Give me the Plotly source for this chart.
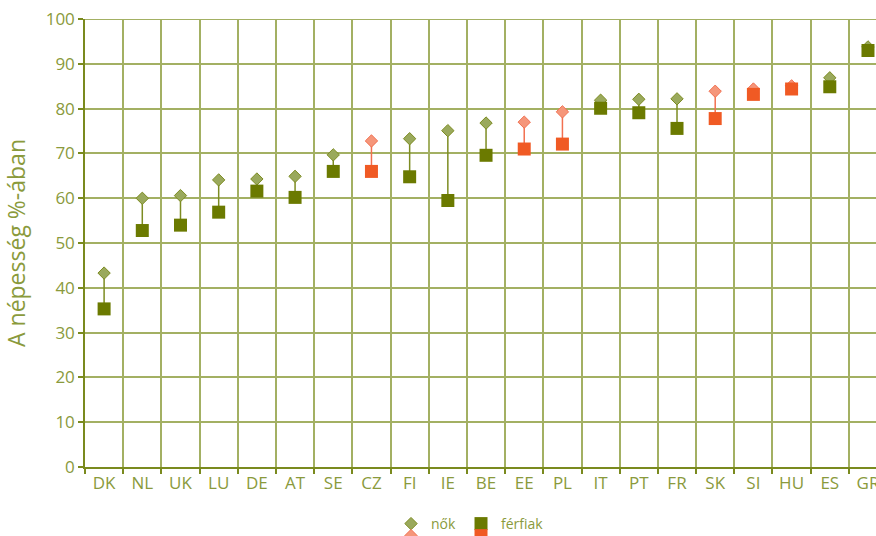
import plotly.graph_objects as go

orszagok = ["DK", "NL", "UK", "LU", "DE", "AT", "SE", "CZ", "FI", "IE", "BE",
            "EE", "PL", "IT", "PT", "FR", "SK", "SI", "HU", "ES", "GR"]
nok = [43.3, 60.0, 60.6, 64.1, 64.3, 64.9, 69.7, 72.8, 73.3, 75.1, 76.8,
       77.0, 79.3, 81.9, 82.1, 82.2, 83.9, 84.4, 85.1, 86.9, 93.8]
ferfiak = [35.3, 52.8, 54.0, 56.9, 61.6, 60.2, 66.0, 66.0, 64.8, 59.5, 69.6,
           71.0, 72.1, 80.1, 79.1, 75.6, 77.8, 83.2, 84.4, 84.9, 93.0]
# 1 = highlighted (orange) countries
kiemelt = [0, 0, 0, 0, 0, 0, 0, 1, 0, 0, 0, 1, 1, 0, 0, 0, 1, 1, 1, 0, 0]
y_ticks = list(range(0, 101, 10))

GREEN_SQ = "#6b7a00"
GREEN_DIA = "#9aa95c"
GREEN_LINE = "#7d8c22"
ORANGE_SQ = "#f05a24"
ORANGE_DIA = "#f5967a"
ORANGE_LINE = "#f27050"
GRID = "#a3b063"
AXIS = "#7a8a1e"
TEXT = "#8a9a3c"

W, H = 876, 536

fig = go.Figure()

def subset(flag):
    return [i for i, k in enumerate(kiemelt) if k == flag]

for flag, lc in [(0, GREEN_LINE), (1, ORANGE_LINE)]:
    xs, ys = [], []
    for i in subset(flag):
        xs += [orszagok[i], orszagok[i], None]
        ys += [nok[i], ferfiak[i], None]
    fig.add_trace(go.Scatter(x=xs, y=ys, mode="lines", line=dict(color=lc, width=1.5),
                             showlegend=False, hoverinfo="skip"))

for flag, fill, outl, leg in [(0, GREEN_DIA, GREEN_LINE, "legend"), (1, ORANGE_DIA, ORANGE_LINE, "legend2")]:
    idx = subset(flag)
    fig.add_trace(go.Scatter(x=[orszagok[i] for i in idx], y=[nok[i] for i in idx],
                             mode="markers", name="nők", legend=leg,
                             marker=dict(symbol="diamond", size=9.5, color=fill,
                                         line=dict(color=outl, width=1))))
for flag, fill, leg in [(0, GREEN_SQ, "legend"), (1, ORANGE_SQ, "legend2")]:
    idx = subset(flag)
    fig.add_trace(go.Scatter(x=[orszagok[i] for i in idx], y=[ferfiak[i] for i in idx],
                             mode="markers", name="férfiak", legend=leg,
                             marker=dict(symbol="square", size=13, color=fill,
                                         line=dict(width=0))))

leg_common = dict(orientation="h", xanchor="left", yanchor="middle",
                  xref="container", yref="container",
                  bgcolor="rgba(0,0,0,0)", itemwidth=30, itemsizing="trace",
                  tracegroupgap=0)

fig.update_layout(
    width=W, height=H,
    margin=dict(l=85, r=0, t=19, b=69, autoexpand=False),
    plot_bgcolor="rgba(0,0,0,0)", paper_bgcolor="white",
    font=dict(family="Open Sans", size=17, color=TEXT),
    xaxis=dict(type="category", categoryorder="array", categoryarray=orszagok,
               range=[-0.5, 20.21], tickson="boundaries", showgrid=True,
               gridcolor=GRID, gridwidth=1.5, ticks="outside", ticklen=5,
               tickcolor=AXIS, tickwidth=1.5, showline=True, linecolor=AXIS,
               linewidth=1.5, tickfont=dict(size=17, color=TEXT), fixedrange=True,
               automargin=False, ticklabeloverflow="allow"),
    yaxis=dict(range=[0, 100.03], tickvals=y_ticks, showgrid=True,
               gridcolor=GRID, gridwidth=1.5,
               ticks="outside", ticklen=5, tickcolor=AXIS, tickwidth=1.5,
               showline=True, linecolor=AXIS, linewidth=1.5, zeroline=False,
               tickfont=dict(size=17, color=TEXT), automargin=False,
               ticklabeloverflow="allow",
               title=dict(text="A népesség %-ában", font=dict(size=23, color=TEXT), standoff=16)),
    legend=dict(x=391 / W, y=(H - 524) / H,
                font=dict(family="Open Sans", size=14, color=TEXT), **leg_common),
    legend2=dict(x=391 / W, y=(H - 538) / H,
                 font=dict(family="Open Sans", size=14, color="rgba(0,0,0,0)"), **leg_common),
)
# top gridline at the 100 mark (plotly skips the grid line at the plot edge)
fig.add_shape(type="line", xref="paper", x0=0, x1=1, yref="y", y0=y_ticks[-1], y1=y_ticks[-1],
              line=dict(color=GRID, width=1.5), layer="above")

fig.write_html("out.html", config={"displayModeBar": False},
               post_script="document.body.style.margin='0';document.body.style.overflow='hidden';")
